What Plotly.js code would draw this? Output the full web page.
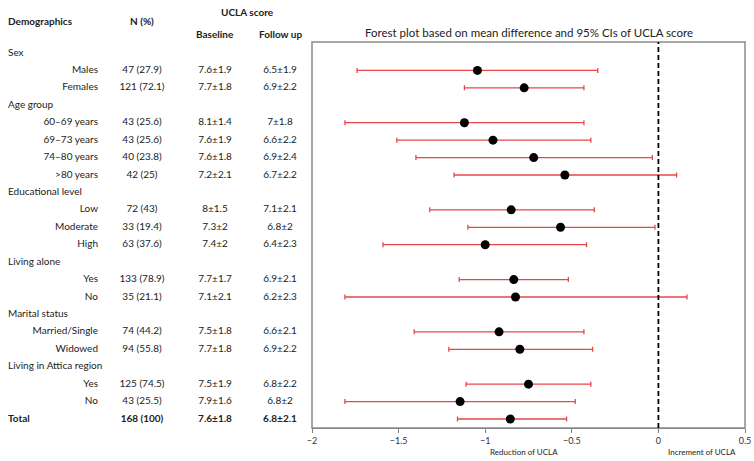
<!DOCTYPE html>
<html>
<head>
<meta charset="utf-8">
<script src="https://cdn.plot.ly/plotly-3.0.1.min.js"></script>
<style>
html,body{margin:0;padding:0;background:#fff;}
#chart{width:754px;height:461px;}
</style>
</head>
<body>
<div id="chart"></div>
<script>
// ---- data ----
const groupNames = ["Sex", "Age group", "Educational level", "Living alone", "Marital status", "Living in Attica region"];
const subgroups = ["Males", "Females", "60–69 years", "69–73 years", "74–80 years", ">80 years",
  "Low", "Moderate", "High", "Yes", "No", "Married/Single", "Widowed", "Yes", "No", "Total"];
const subgroupGroup = [0, 0, 1, 1, 1, 1, 2, 2, 2, 3, 3, 4, 4, 5, 5, -1];
const nPct = ["47 (27.9)", "121 (72.1)", "43 (25.6)", "43 (25.6)", "40 (23.8)", "42 (25)",
  "72 (43)", "33 (19.4)", "63 (37.6)", "133 (78.9)", "35 (21.1)", "74 (44.2)", "94 (55.8)",
  "125 (74.5)", "43 (25.5)", "168 (100)"];
const baseline = ["7.6±1.9", "7.7±1.8", "8.1±1.4", "7.6±1.9", "7.6±1.8", "7.2±2.1",
  "8±1.5", "7.3±2", "7.4±2", "7.7±1.7", "7.1±2.1", "7.5±1.8", "7.7±1.8",
  "7.5±1.9", "7.9±1.6", "7.6±1.8"];
const followUp = ["6.5±1.9", "6.9±2.2", "7±1.8", "6.6±2.2", "6.9±2.4", "6.7±2.2",
  "7.1±2.1", "6.8±2", "6.4±2.3", "6.9±2.1", "6.2±2.3", "6.6±2.1", "6.9±2.2",
  "6.8±2.2", "6.8±2", "6.8±2.1"];
const meanDiff = [-1.045, -0.775, -1.12, -0.955, -0.72, -0.54, -0.85, -0.565, -1.0,
  -0.835, -0.825, -0.92, -0.80, -0.75, -1.145, -0.855];
const ciLow = [-1.74, -1.12, -1.81, -1.51, -1.40, -1.18, -1.32, -1.10, -1.59,
  -1.15, -1.81, -1.41, -1.21, -1.11, -1.81, -1.16];
const ciHigh = [-0.35, -0.43, -0.43, -0.39, -0.035, 0.105, -0.37, -0.02, -0.415,
  -0.52, 0.165, -0.43, -0.38, -0.39, -0.48, -0.53];
const xTicks = [-2, -1.5, -1, -0.5, 0, 0.5];

// ---- build row layout ----
const W = 754, H = 461;
const plotL = 312, plotR = 745, plotT = 42, plotB = 428;
const rowY = [];           // row index for each subgroup
const headerRows = [];     // {y, text}
let r = 0, lastG = null;
subgroups.forEach((s, i) => {
  const g = subgroupGroup[i];
  if (g >= 0 && g !== lastG) { headerRows.push({y: r, text: groupNames[g]}); r++; }
  lastG = g;
  rowY.push(r); r++;
});
const nRows = r;
const rowPx = (plotB - plotT - 20) / (nRows - 1 + 0.0);
const yTopPad = (53 - plotT) / 17.43, yBotPad = (plotB - 419) / 17.43;
const yRange = [nRows - 1 + yBotPad, -yTopPad];

const font = "Lato, 'Open Sans', sans-serif";
const colX = {group: 8, sub: 98, n: 142, base: 215, fol: 280};

const isTotal = subgroupGroup.map(g => g < 0);
const b = (t, i) => isTotal[i] ? "<b>" + t + "</b>" : t;

const traces = [];
// forest plot
traces.push({
  type: "scatter", mode: "markers", x: meanDiff, y: rowY,
  xaxis: "x", yaxis: "y",
  marker: {color: "#000", size: 9},
  error_x: {type: "data", symmetric: false,
    array: meanDiff.map((m, i) => ciHigh[i] - m),
    arrayminus: meanDiff.map((m, i) => m - ciLow[i]),
    color: "#e8474a", thickness: 1.3, width: 2.5},
  hoverinfo: "skip", showlegend: false, cliponaxis: false
});
// table text
const tf = {family: font, size: 10, color: "#222"};
traces.push({type: "scatter", mode: "text", xaxis: "x2", yaxis: "y",
  x: headerRows.map(() => colX.group), y: headerRows.map(h => h.y),
  text: headerRows.map(h => h.text), textposition: "middle right", textfont: tf,
  hoverinfo: "skip", showlegend: false, cliponaxis: false});
traces.push({type: "scatter", mode: "text", xaxis: "x2", yaxis: "y",
  x: subgroups.map((s, i) => isTotal[i] ? colX.group : colX.sub), y: rowY,
  text: subgroups.map((s, i) => b(s, i)),
  textposition: subgroups.map((s, i) => isTotal[i] ? "middle right" : "middle left"), textfont: tf,
  hoverinfo: "skip", showlegend: false, cliponaxis: false});
[[nPct, colX.n], [baseline, colX.base], [followUp, colX.fol]].forEach(([arr, cx]) => {
  traces.push({type: "scatter", mode: "text", xaxis: "x2", yaxis: "y",
    x: arr.map(() => cx), y: rowY, text: arr.map((t, i) => b(t, i)),
    textposition: "middle center", textfont: tf,
    hoverinfo: "skip", showlegend: false, cliponaxis: false});
});

const py = p => (plotB - p) / (plotB - plotT);
const ann = (x, y, text, size, bold, xref) => ({
  xref: xref || "x2", yref: "paper", x: x, y: py(y), text: bold ? "<b>" + text + "</b>" : text,
  showarrow: false, xanchor: "center", yanchor: "middle",
  font: {family: font, size: size, color: "#222"}
});

const layout = {
  width: W, height: H,
  margin: {l: 0, r: 0, t: plotT, b: H - plotB, pad: 0},
  paper_bgcolor: "#fff", plot_bgcolor: "#fff",
  showlegend: false,
  xaxis: {domain: [plotL / W, plotR / W], range: [-2, 0.5], tickvals: xTicks,
    ticks: "outside", ticklen: 4, tickcolor: "#808080", showline: true, linecolor: "#808080",
    linewidth: 1, showgrid: false, zeroline: false, fixedrange: true,
    tickfont: {family: font, size: 9, color: "#333"}},
  xaxis2: {domain: [0, 310 / W], range: [0, 310], visible: false, fixedrange: true},
  yaxis: {range: yRange, visible: false, fixedrange: true, showgrid: false, zeroline: false},
  shapes: [
    {type: "rect", xref: "paper", yref: "paper", x0: plotL / W, x1: plotR / W, y0: 0, y1: 1,
      line: {color: "#8a8a8a", width: 1.5}},
    {type: "line", xref: "x", yref: "paper", x0: 0, x1: 0, y0: 0, y1: 1,
      line: {color: "#000", width: 1.8, dash: "5px,3px"}}
  ],
  annotations: [
    ann(40, 21, "Demographics", 10, true),
    ann(colX.n, 21, "N (%)", 10, true),
    ann(247, 12, "UCLA score", 10, true),
    ann(colX.base, 34, "Baseline", 10, true),
    ann(colX.fol, 34, "Follow up", 10, true),
    ann(-0.776, 452, "Reduction of UCLA", 8, false, "x"),
    ann(0.25, 452, "Increment of UCLA", 8, false, "x"),
    Object.assign(ann(0, 33, "Forest plot based on mean difference and 95% CIs of UCLA score", 11.5, false, "paper"),
      {x: (plotL + plotR) / 2 / W})
  ]
};

Plotly.newPlot("chart", traces, layout, {displayModeBar: false, staticPlot: true});
</script>
</body>
</html>
